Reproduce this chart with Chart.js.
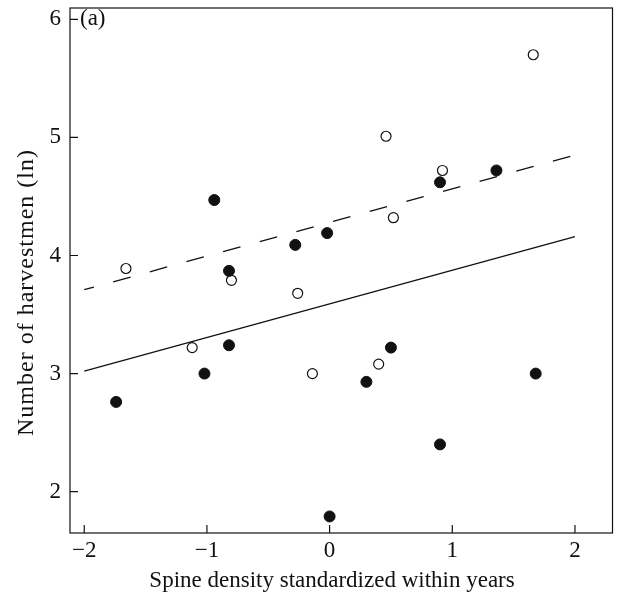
<!DOCTYPE html>
<html lang="en">
<head>
<meta charset="utf-8" />
<title>Harvestmen vs spine density</title>
<style>
*{box-sizing:border-box;margin:0;padding:0}
html,body{background:#fff}
.wrap{width:619px;height:596px}
</style>
</head>
<body>
<div class="wrap"><canvas id="chart" width="619" height="596"></canvas></div>

<script src="https://cdn.jsdelivr.net/npm/chart.js@4.4.1"></script>
<script>
/* ─── data ───────────────────────────────────────────── */
const xTicks = [-2, -1, 0, 1, 2];
const yTicks = [2, 3, 4, 5, 6];

const openX   = [1.66, 0.46, 0.92, 0.52, -1.66, -0.80, -0.26, -1.12, -0.14, 0.40];
const openY   = [5.70, 5.01, 4.72, 4.32, 3.89, 3.79, 3.68, 3.22, 3.00, 3.08];

const filledX = [1.36, 0.90, -0.94, -0.02, -0.28, -0.82, -0.82, 0.50, -1.02, 0.30, 1.68, -1.74, 0.90, 0.00];
const filledY = [4.72, 4.62, 4.47, 4.19, 4.09, 3.87, 3.24, 3.22, 3.00, 2.93, 3.00, 2.76, 2.40, 1.79];

const lineX   = [-2, 2];
const solidY  = [3.02, 4.16];
const dashedY = [3.71, 4.85];

const xTitle = 'Spine density standardized within years';
const yTitle = 'Number of harvestmen (ln)';

const FONT = "'Liberation Serif','Times New Roman',serif";
const pts = (xs, ys) => xs.map((x, i) => ({x, y: ys[i]}));
const minus = v => v < 0 ? '\u2212' + Math.abs(v) : String(v);

/* drop the label overhang chart.js reserves, so the frame sits where we set it */
const noOverhang = s => { s.paddingTop = s.paddingBottom = s.paddingLeft = s.paddingRight = 0; };

/* frame, inward tick marks, panel letter and axis titles */
const framePlugin = {
    id: 'frame',
    afterDraw(chart){
        const {ctx, chartArea: a, scales} = chart;
        ctx.save();
        ctx.strokeStyle = '#111';
        ctx.lineWidth = 1.2;
        ctx.strokeRect(a.left, a.top, a.right - a.left, a.bottom - a.top);
        ctx.beginPath();
        scales.x.ticks.forEach(t => {
            const px = scales.x.getPixelForValue(t.value);
            ctx.moveTo(px, a.bottom); ctx.lineTo(px, a.bottom - 8);
        });
        scales.y.ticks.forEach(t => {
            const py = scales.y.getPixelForValue(t.value);
            ctx.moveTo(a.left, py); ctx.lineTo(a.left + 8, py);
        });
        ctx.stroke();

        ctx.fillStyle = '#111';
        ctx.font = '23px ' + FONT;
        ctx.textBaseline = 'middle';
        ctx.fillText('(a)', a.left + 10, scales.y.getPixelForValue(6));

        // x title, centred a little left of the plot centre as in the source
        ctx.textAlign = 'center';
        ctx.fillText(xTitle, scales.x.getPixelForValue(0.02), 581);

        // y title, rotated
        ctx.translate(27, (a.top + a.bottom) / 2 + 22);
        ctx.rotate(-Math.PI / 2);
        ctx.font = '24px ' + FONT;
        ctx.letterSpacing = '1px';
        ctx.fillText(yTitle, 0, 0);
        ctx.restore();
    }
};

new Chart(document.getElementById('chart'), {
    type: 'scatter',
    data: {
        datasets: [
            {data: pts(lineX, dashedY), type: 'line', showLine: true, pointRadius: 0,
             borderColor: '#111', borderWidth: 1.3, borderDash: [18, 20], borderDashOffset: 8, fill: false},
            {data: pts(lineX, solidY), type: 'line', showLine: true, pointRadius: 0,
             borderColor: '#111', borderWidth: 1.3, fill: false},
            {data: pts(filledX, filledY), pointRadius: 5.5, pointBackgroundColor: '#111',
             pointBorderColor: '#111', pointBorderWidth: 1},
            {data: pts(openX, openY), pointRadius: 5, pointBackgroundColor: '#fff',
             pointBorderColor: '#111', pointBorderWidth: 1.2}
        ]
    },
    options: {
        responsive: false,
        animation: false,
        layout: {padding: {top: 8, right: 2, left: 0, bottom: 0}},
        plugins: {legend: {display: false}, tooltip: {enabled: false}},
        scales: {
            x: {
                type: 'linear', min: -2.116, max: 2.306,
                afterBuildTicks: s => { s.ticks = xTicks.map(v => ({value: v})); },
                afterFit: s => { s.height = 63; noOverhang(s); },
                grid: {display: false, drawTicks: false},
                border: {display: false},
                ticks: {color: '#111', padding: 4, font: {family: FONT, size: 23}, callback: minus}
            },
            y: {
                type: 'linear', min: 1.65, max: 6.096,
                afterBuildTicks: s => { s.ticks = yTicks.map(v => ({value: v})); },
                afterFit: s => { s.width = 70; noOverhang(s); },
                grid: {display: false, drawTicks: false},
                border: {display: false},
                ticks: {color: '#111', padding: 9, font: {family: FONT, size: 23}, callback: minus}
            }
        }
    },
    plugins: [framePlugin]
});
</script>
</body>
</html>
